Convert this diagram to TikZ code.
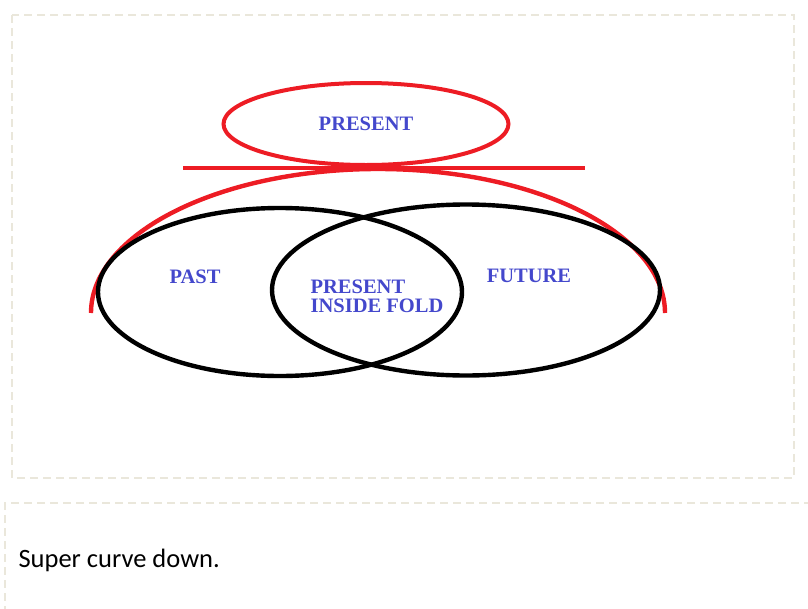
\documentclass[tikz,border=0pt]{standalone}
\usepackage{fontspec}
\setmainfont{Liberation Serif}
\newfontfamily\notefont{Carlito}
\usetikzlibrary{shapes.geometric}

\definecolor{frame}{RGB}{234,231,219}
\definecolor{fold}{RGB}{237,28,36}
\definecolor{word}{RGB}{68,72,204}

\tikzset{
  box/.style = {draw = frame, line width = 2.8pt, dash pattern = on 8pt off 5pt},
  ring/.style = {draw, ellipse, line width = 4.4pt, inner sep = 0pt},
  tag/.style = {text = word, font = \fontsize{20.5}{19}\selectfont\bfseries}
}

\begin{document}
\begin{tikzpicture} [x = 1pt, y = -1pt]
\useasboundingbox (0,0) rectangle (808,608);
\draw [box] (12,15) rectangle (794,478);
\draw [box] (812,503) -- (5,503) -- (5,620);

% the present above the fold
\node[ring, draw = fold, line width = 4pt, minimum width = 285pt, minimum height = 82pt](now) at (366,124){};
\node[tag](nowtext) at (now.center){PRESENT};
\coordinate (l1) at (183,168);
\coordinate (l2) at (585,168);
\draw [fold, line width = 4.4pt] (l1) -- (l2);
\coordinate (a1) at (91,313);
\draw [fold, line width = 4.4pt] (a1) arc [start angle = 180, end angle = 0, x radius = 287pt, y radius = 144pt];

% past and future
\node[ring, minimum width = 364pt, minimum height = 168pt](past) at (280,292){};
\node[ring, minimum width = 388pt, minimum height = 171pt](future) at (466,290){};
\node[tag](pasttext) at (195,277){PAST};
\node[tag](futuretext) at (529,276){FUTURE};
\node[tag, align = left, font = \fontsize{20.5}{19}\selectfont\bfseries](fold) at (377,296){PRESENT\\INSIDE FOLD};

\node[anchor = west, font = \notefont\fontsize{26.5}{26.5}\selectfont](note) at (15,560){Super curve down.};
\end{tikzpicture}
\end{document}
